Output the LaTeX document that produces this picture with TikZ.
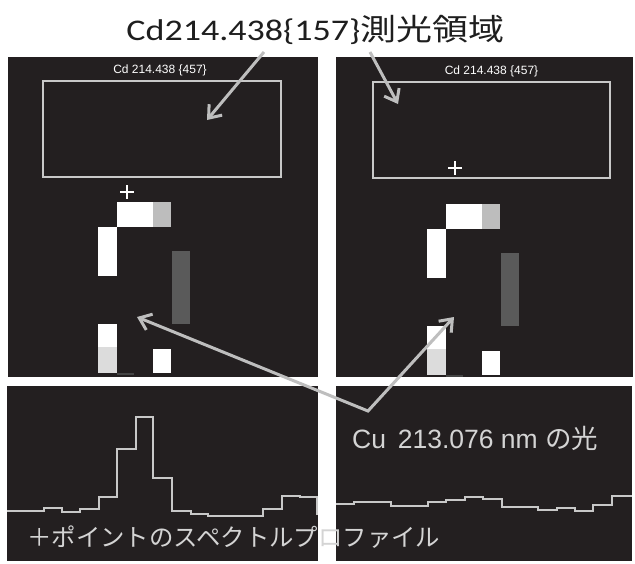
\documentclass[tikz,border=0pt]{standalone}
\usepackage{fontspec}
\setmainfont{Liberation Sans}
\newfontfamily\cjk{Noto Sans CJK JP}
\newfontfamily\carlito{Carlito}
\usetikzlibrary{arrows.meta}
\definecolor{panelbg}{HTML}{231F20}
\definecolor{linegray}{HTML}{C8C8C8}
\definecolor{arrowgray}{HTML}{BEBEBE}
\definecolor{txtgray}{HTML}{D4D4D4}
\definecolor{blkgray}{HTML}{BDBDBD}
\definecolor{blklight}{HTML}{DCDCDC}
\definecolor{blkdark}{HTML}{5A5A5A}
\definecolor{blkdarker}{HTML}{444444}
\definecolor{titlecol}{HTML}{1E1E1E}
\tikzset{
  panel/.style={fill=panelbg, draw=none},
  roi/.style={draw=linegray, line width=1.4pt},
  spec/.style={draw=linegray, line width=1.4pt, line join=miter},
  bigarrow/.style={draw=arrowgray, line width=3pt, -{Straight Barb[length=11pt,width=17pt,line width=3pt]}},
  smalllabel/.style={text=white, font=\fontsize{12}{14}\selectfont, inner sep=0pt},
  pluscross/.style={draw=white, line width=1.6pt},
}
\begin{document}
\begin{tikzpicture}[x=1pt,y=-1pt]
\useasboundingbox (0,0) rectangle (635,563);
% panels
\fill[panel] (8,57) rectangle (318,377);
\fill[panel] (336,57) rectangle (633,377);
\fill[panel] (7,386) rectangle (318,561);
\fill[panel] (336,386) rectangle (632,561);
% ROI rectangles
\draw[roi] (43,81) rectangle (281,177);
\draw[roi] (373,82) rectangle (610,178);
\node[smalllabel] (lab1) at (160,70.5) {\scalebox{1.0}[1]{Cd 214.438 \{457\}}};
\node[smalllabel] (lab2) at (491.5,71.5) {\scalebox{1.0}[1]{Cd 214.438 \{457\}}};
% blocks left panel and right panel
\foreach \dx/\dy in {0/0, 329/2}{
  \begin{scope}[shift={(\dx,\dy)}]
    \fill[white] (117,202) rectangle (153,227);
    \fill[blkgray] (153,202) rectangle (171,227);
    \fill[white] (98,227) rectangle (117,276);
    \fill[blkdark] (172,251) rectangle (190,324);
    \fill[white] (98,324) rectangle (117,347);
    \fill[blklight] (98,347) rectangle (117,373);
    \fill[white] (153,349) rectangle (171,373);
    \fill[blkdarker] (117,373) rectangle (134,375);
  \end{scope}
}
% plus markers
\draw[pluscross] (120,192) -- (134,192) (127,185) -- (127,199);
\draw[pluscross] (448,168) -- (462,168) (455,161) -- (455,175);
% spectra
\draw[spec] (7,511) -- (44,511) -- (44,508) -- (62,508) -- (62,512) -- (80,512) -- (80,509) -- (99,509) -- (99,497) -- (117,497) -- (117,449) -- (136,449) -- (136,417) -- (153,417) -- (153,478) -- (172,478) -- (172,511) -- (191,511) -- (191,514) -- (208,514) -- (208,516) -- (263,516) -- (263,509) -- (282,509) -- (282,496) -- (300,496) -- (300,497) -- (317,497) -- (317,515);
\draw[spec] (336,504) -- (354,504) -- (354,502) -- (391,502) -- (391,506) -- (428,506) -- (428,502) -- (446,502) -- (446,500) -- (465,500) -- (465,497) -- (483,497) -- (483,499) -- (502,499) -- (502,507) -- (538,507) -- (538,510) -- (557,510) -- (557,508) -- (575,508) -- (575,511) -- (593,511) -- (593,505) -- (612,505) -- (612,496) -- (632,496);
% texts
\node[inner sep=0pt, text=titlecol] (title) at (315.5,30) {\fontsize{30}{36}\selectfont\scalebox{1.2}[1]{\carlito Cd214.438\{157\}\cjk 測光領域}};
\node[inner sep=0pt, anchor=base west, text=txtgray] (cu) at (352,448) {\fontsize{26.5}{31}\selectfont Cu\, 213.076 nm {\cjk の光}};
\node[inner sep=0pt, anchor=west, text=txtgray] (prof) at (27,537) {\fontsize{24.4}{29}\selectfont\cjk ＋ポイントのスペクトルプロファイル};
% arrows
\coordinate (a1s) at (264,52);
\coordinate (a1t) at (207,120);
\coordinate (a2s) at (370,52);
\coordinate (a2t) at (398,104);
\coordinate (vtx) at (368,411);
\coordinate (tl) at (137,317);
\coordinate (tr) at (454,317);
\draw[bigarrow] (a1s) -- (a1t);
\draw[bigarrow] (a2s) -- (a2t);
\draw[bigarrow, {Straight Barb[length=11pt,width=17pt,line width=3pt]}-{Straight Barb[length=11pt,width=17pt,line width=3pt]}, line join=miter] (tl) -- (vtx) -- (tr);
\end{tikzpicture}
\end{document}
